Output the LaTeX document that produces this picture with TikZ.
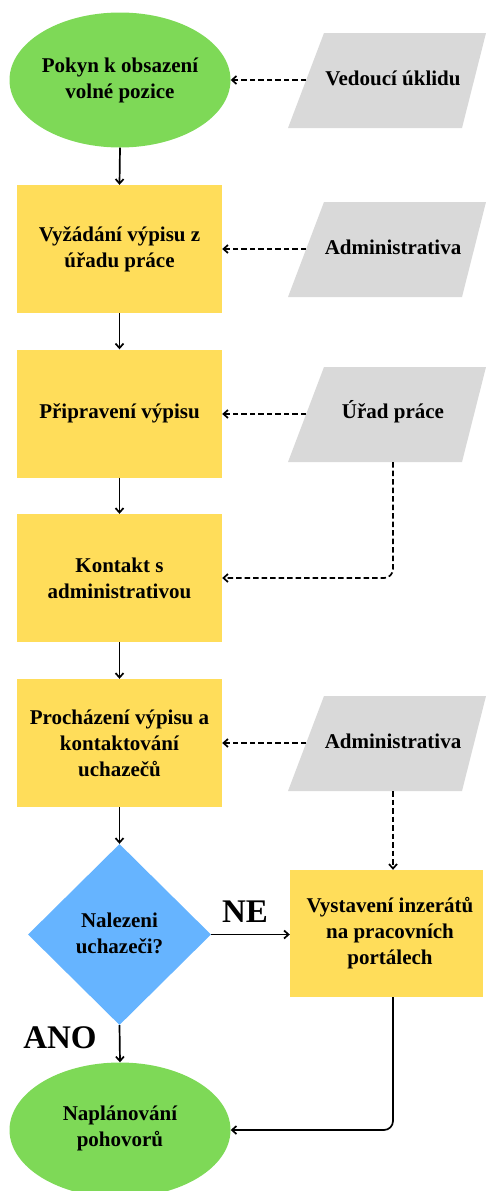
\documentclass[tikz,border=0pt]{standalone}
\usepackage{fontspec}
\setmainfont{Liberation Serif}
\usetikzlibrary{shapes.geometric,arrows.meta}
\definecolor{cgreen}{HTML}{7ED957}
\definecolor{cyellow}{HTML}{FFDD5A}
\definecolor{cblue}{HTML}{66B4FF}
\definecolor{cgray}{HTML}{D9D9D9}
\tikzset{
  txt/.style={font=\bfseries\fontsize{21}{26}\selectfont, align=center, text=black, inner sep=0pt},
  bigtxt/.style={font=\bfseries\fontsize{33}{36}\selectfont, text=black, inner sep=0pt},
  procbox/.style={fill=cyellow, minimum width=205pt, minimum height=128pt, inner sep=0pt},
  termbox/.style={ellipse, fill=cgreen, minimum width=221pt, minimum height=135pt, inner sep=0pt},
  decbox/.style={diamond, fill=cblue, minimum width=183pt, minimum height=181pt, inner sep=0pt},
  flow/.style={line width=1.7pt, -{Straight Barb[length=4.5pt,width=8pt]}},
  dflow/.style={line width=1.7pt, dash pattern=on 5.5pt off 3pt, -{Straight Barb[length=4.5pt,width=8pt]}}
}
\newcommand\myparal[3]{%
  \fill[cgray] (288,#1+95) -- (324,#1) -- (486,#1) -- (462,#1+95) -- cycle;
  \node[txt] (#2) at (393,#1+45) {#3};
  \coordinate (#2w) at (306,#1+47);
  \coordinate (#2s) at (393,#1+95);
}
\begin{document}
\begin{tikzpicture}[x=1pt,y=-1pt]
\useasboundingbox (0,0) rectangle (486,1191);
\clip (0,0) rectangle (486,1191);

% main column
\node[termbox] (e1) at (120,80) {};
\node[txt] (e1t) at (e1) {Pokyn k obsazení\\volné pozice};
\node[procbox] (r1) at (119.5,249) {};
\node[txt] (r1t) at (r1) {Vyžádání výpisu z\\úřadu práce};
\node[procbox] (r2) at (119.5,413.5) {};
\node[txt] (r2t) at (r2) {Připravení výpisu};
\node[procbox] (r3) at (119.5,578) {};
\node[txt] (r3t) at (r3) {Kontakt s\\administrativou};
\node[procbox] (r4) at (119.5,743) {};
\node[txt] (r4t) at (r4) {Procházení výpisu a\\kontaktování\\uchazečů};
\node[decbox] (d) at (119.5,934.5) {};
\node[txt] (dt) at (119.5,933) {Nalezeni\\uchazeči?};
\node[procbox, minimum width=193pt, minimum height=127pt] (r5) at (386.5,933.5) {};
\node[txt] (r5t) at (390,933) {Vystavení inzerátů\\na pracovních\\portálech};
\node[termbox] (e2) at (120,1130) {};
\node[txt] (e2t) at (120,1128) {Naplánování\\pohovorů};

% side inputs
\myparal{33}{p1}{Vedoucí úklidu}
\myparal{202}{p2}{Administrativa}
\myparal{367}{p3}{Úřad práce}
\myparal{696}{p4}{Administrativa}

% labels
\node[bigtxt] (ne) at (245,912) {NE};
\node[bigtxt] (ano) at (60,1038) {ANO};

% solid flow
\draw[flow] (e1.south) -- (r1.north);
\draw[flow] (r1.south) -- (r2.north);
\draw[flow] (r2.south) -- (r3.north);
\draw[flow] (r3.south) -- (r4.north);
\draw[flow] (r4.south) -- (d.north);
\draw[flow] (d.south) -- (e2.north);
\draw[flow] (d.east) -- (d.east -| r5.west);
\draw[flow, rounded corners=9pt] (r5.south -| p4s) |- (e2.east);

% dashed inputs
\draw[dflow] (p1w) -- (p1w -| e1.east);
\draw[dflow] (p2w) -- (p2w -| r1.east);
\draw[dflow] (p3w) -- (p3w -| r2.east);
\draw[dflow] (p4w) -- (p4w -| r4.east);
\draw[dflow, rounded corners=9pt] (p3s) |- (r3.east);
\draw[dflow] (p4s) -- (p4s |- r5.north);
\end{tikzpicture}
\end{document}
